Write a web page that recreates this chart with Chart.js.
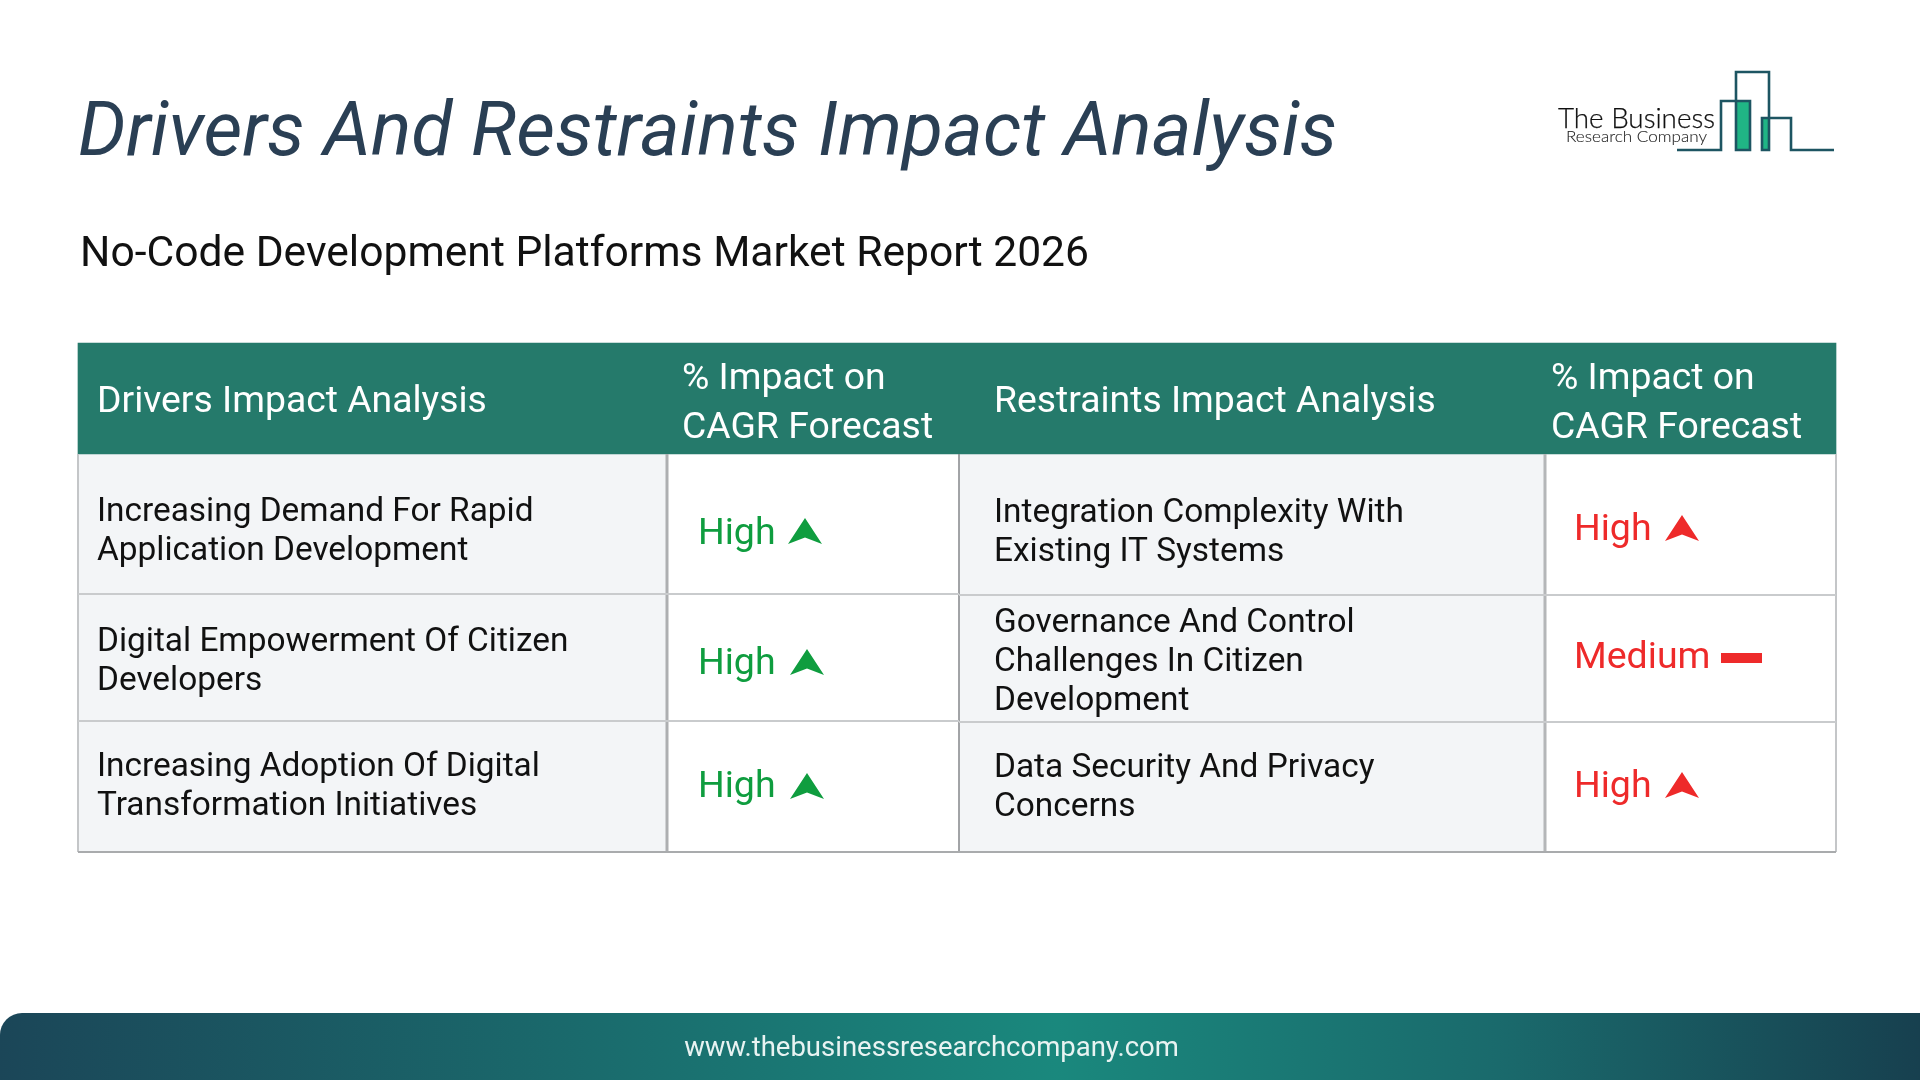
<!DOCTYPE html>
<html><head><meta charset="utf-8">
<style>
html,body{margin:0;padding:0;background:#fff;width:1920px;height:1080px;overflow:hidden}
#wrap{position:relative;width:1920px;height:1080px}
canvas{position:absolute;left:0;top:0}
.t{position:absolute;white-space:nowrap;font-family:Roboto,sans-serif}
#title{left:78px;top:86px;font-size:75.4px;font-style:italic;color:#2a3f54;line-height:86px}
#sub{left:80px;top:225px;font-size:42.6px;color:#111;line-height:52px}
#foot{left:0;top:1013px;width:1920px;height:67px;border-radius:22px 0 0 0;background:linear-gradient(90deg,#1b4658 0%,#1a6a6c 30%,#1a887d 55%,#1a6a6c 78%,#17404f 100%)}
#furl{left:0;width:1863px;text-align:center;top:1013px;line-height:67px;font-size:27.5px;color:#e8f3f2}
svg{position:absolute;left:0;top:0}
</style></head><body><div id="wrap">
<canvas id="c" width="1920" height="1080"></canvas>
<div class="t" id="title">Drivers And Restraints Impact Analysis</div>
<div class="t" id="sub">No-Code Development Platforms Market Report 2026</div>
<div class="t" id="foot"></div><div class="t" id="furl">www.thebusinessresearchcompany.com</div>
<svg width="1920" height="200">
<rect x="1736" y="101" width="14" height="49" fill="#20b585"/><rect x="1762" y="118" width="7" height="32" fill="#20b585"/>
<path d="M1677 150H1721V101H1750V150H1736V72H1769V150H1762V118H1791V150H1834" fill="none" stroke="#1d5562" stroke-width="2.6"/>
<text x="1558" y="128" font-family="Lato,sans-serif" font-weight="300" font-size="28" fill="#111" stroke="#111" stroke-width="0.25" textLength="157" lengthAdjust="spacingAndGlyphs">The Business</text>
<text x="1566" y="142" font-family="Lato,sans-serif" font-weight="300" font-size="16" fill="#222" stroke="#222" stroke-width="0.1" textLength="141" lengthAdjust="spacingAndGlyphs">Research Company</text>
</svg>
</div>
<script src="https://cdn.jsdelivr.net/npm/chart.js@4"></script>
<script>
// ---- content ----
const headers = ['Drivers Impact Analysis', ['% Impact on','CAGR Forecast'], 'Restraints Impact Analysis', ['% Impact on','CAGR Forecast']];
const drivers = [['Increasing Demand For Rapid','Application Development'],['Digital Empowerment Of Citizen','Developers'],['Increasing Adoption Of Digital','Transformation Initiatives']];
const driverImpact = ['High','High','High'];
const restraints = [['Integration Complexity With','Existing IT Systems'],['Governance And Control','Challenges In Citizen','Development'],['Data Security And Privacy','Concerns']];
const restraintImpact = ['High','Medium','High'];
// ---- layout (page units) ----
const colEdges = [78,667,959,1545,1836];
const rowEdgesL = [454,594,721,852], rowEdgesR = [454,595,722,852];
const headTop = 343;
const txtCY = {d:[512.5,642.5,767.5], r:[513.5,624,768.5], di:[534.5,665,788], ri:[530.5,658.5,788]};
const markCY = {d:[531,662,786], r:[528,658,785]};
const markCX = {d:[805,807,807], r:[1682,1741,1682]};
const GREEN='#0f9d3f', RED='#ee2a2a', HEAD='#257a6b', TINT='#f3f5f7';

function arrow(color){const c=document.createElement('canvas');c.width=34;c.height=26;const g=c.getContext('2d');g.fillStyle=color;g.beginPath();g.moveTo(17,0);g.lineTo(34,26);g.lineTo(17,19.5);g.lineTo(0,26);g.closePath();g.fill();return c;}
function dash(color){const c=document.createElement('canvas');c.width=41;c.height=10;const g=c.getContext('2d');g.fillStyle=color;g.fillRect(0,0,41,10);return c;}
const symbols={High:{d:arrow(GREEN),r:arrow(RED)},Medium:{d:dash(GREEN),r:dash(RED)}};

const ds=[];
function bar(x0,x1,y0,y1,color){ds.push({type:'bar',indexAxis:'y',order:3,data:[{x:[x0,x1],y:(y0+y1)/2}],backgroundColor:color,barThickness:y1-y0,borderWidth:0,grouped:false});}
function rule(x0,y0,x1,y1,color,w){ds.push({type:'scatter',indexAxis:'x',order:2,showLine:true,pointRadius:0,data:[{x:x0,y:y0},{x:x1,y:y1}],borderColor:color,borderWidth:w});}
bar(colEdges[0],colEdges[4],headTop,rowEdgesL[0],HEAD);
drivers.forEach((_,i)=>{
  bar(colEdges[0],colEdges[1],rowEdgesL[i],rowEdgesL[i+1],TINT);
  bar(colEdges[1],colEdges[2],rowEdgesL[i],rowEdgesL[i+1],'#ffffff');
  bar(colEdges[2],colEdges[3],rowEdgesR[i],rowEdgesR[i+1],TINT);
  bar(colEdges[3],colEdges[4],rowEdgesR[i],rowEdgesR[i+1],'#ffffff');
});
const LINE='#c9cbcd';
[1,2].forEach(i=>{rule(colEdges[0],rowEdgesL[i],colEdges[2],rowEdgesL[i],LINE,2);rule(colEdges[2],rowEdgesR[i],colEdges[4],rowEdgesR[i],LINE,2);});
rule(colEdges[0],rowEdgesL[3],colEdges[4],rowEdgesL[3],'#a9abad',2);
rule(colEdges[0],rowEdgesL[0],colEdges[0],rowEdgesL[3],'#c4c6c8',2);
rule(colEdges[4],rowEdgesL[0],colEdges[4],rowEdgesL[3],'#c4c6c8',2);
rule(colEdges[1],rowEdgesL[0],colEdges[1],rowEdgesL[3],'#adafb1',3);
rule(colEdges[2],rowEdgesL[0],colEdges[2],rowEdgesL[3],'#85878a',1.5);
rule(colEdges[3],rowEdgesL[0],colEdges[3],rowEdgesL[3],'#b4b6b8',3);
function marks(levels,key){ds.push({type:'scatter',indexAxis:'x',order:1,showLine:false,data:levels.map((l,i)=>({x:markCX[key][i],y:markCY[key][i]})),pointStyle:levels.map(l=>symbols[l][key]),pointRadius:10});}
marks(driverImpact,'d');marks(restraintImpact,'r');

const textPlugin={id:'cellText',afterDatasetsDraw(ch){
  const g=ch.ctx,X=ch.scales.x,Y=ch.scales.y;
  g.save();g.textBaseline='middle';g.textAlign='left';
  function block(lines,x,top,lh,font,color){lines=[].concat(lines);g.font=font;g.fillStyle=color;
    lines.forEach((s,i)=>g.fillText(s,X.getPixelForValue(x),Y.getPixelForValue(top+i*lh)));}
  const hf='37.35px Roboto',bf='33.4px Roboto',sf='37.5px Roboto';
  const hx=[97,682,994,1551];
  headers.forEach((h,i)=>block(h,hx[i],Array.isArray(h)?380:403,49,hf,'#ffffff'));
  drivers.forEach((t,i)=>{block(t,97,txtCY.d[i],39,bf,'#111');block(driverImpact[i],698,txtCY.di[i],39,sf,GREEN);});
  restraints.forEach((t,i)=>{block(t,994,txtCY.r[i],39,bf,'#111');block(restraintImpact[i],1574,txtCY.ri[i],39,sf,RED);});
  g.restore();
}};

new Chart(document.getElementById('c'),{type:'bar',
  data:{datasets:ds},
  options:{indexAxis:'y',responsive:false,animation:false,events:[],
    layout:{padding:0,autoPadding:false},
    datasets:{bar:{grouped:false}},
    plugins:{legend:{display:false},tooltip:{enabled:false},title:{display:false}},
    scales:{
      x:{type:'linear',min:0,max:1920,display:false,offset:false,stacked:false},
      y:{type:'linear',min:0,max:1080,reverse:true,display:false,offset:false,stacked:false}
    }},
  plugins:[textPlugin]});
</script></body></html>
